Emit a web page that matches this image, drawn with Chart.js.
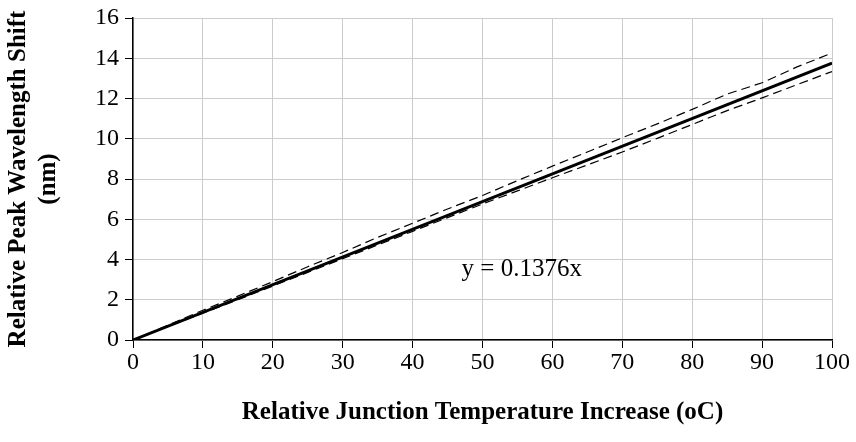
<!DOCTYPE html>
<html>
<head>
<meta charset="utf-8">
<script src="https://cdn.jsdelivr.net/npm/chart.js@4"></script>
<style>
  html, body { margin: 0; padding: 0; background: #fff; }
  #wrap { width: 856px; height: 442px; }
</style>
</head>
<body>
<div id="wrap"><canvas id="shift"></canvas></div>
<script>
const tempArr = [0, 5, 10, 15, 20, 25, 30, 35, 40, 45, 50, 55, 60, 65, 70, 75, 80, 85, 90, 95, 100];
const upperArr = [0, 0.74, 1.48, 2.18, 2.9, 3.64, 4.35, 5.1, 5.8, 6.51, 7.18, 7.92, 8.64, 9.34, 10.05, 10.74, 11.46, 12.22, 12.78, 13.57, 14.26];
const lowerArr = [0, 0.67, 1.33, 2.0, 2.68, 3.36, 4.04, 4.72, 5.4, 6.08, 6.76, 7.41, 8.06, 8.7, 9.34, 10.02, 10.71, 11.4, 12.03, 12.69, 13.34];
const fitX = [0, 100];
const fitY = [0, 13.76];
const xTicks = [0, 10, 20, 30, 40, 50, 60, 70, 80, 90, 100];
const yTicks = [0, 2, 4, 6, 8, 10, 12, 14, 16];
const equation = "y = 0.1376x";

const toPts = (xs, ys) => xs.map((x, i) => ({ x: x, y: ys[i] }));

// equation label drawn at a data position
const eqLabel = {
  id: "eqLabel",
  afterDatasetsDraw(chart) {
    const c = chart.ctx;
    c.save();
    c.font = "25px 'Liberation Serif'";
    c.fillStyle = "#000";
    c.textBaseline = "middle";
    c.fillText(equation, chart.scales.x.getPixelForValue(47), chart.scales.y.getPixelForValue(3.5));
    c.restore();
  },
};

const ctx = document.getElementById("shift").getContext("2d");
const myChart = new Chart(ctx, {
  type: "scatter",
  data: {
    datasets: [
      {
        label: "upper",
        data: toPts(tempArr, upperArr),
        showLine: true,
        borderColor: "#000",
        borderWidth: 1.2,
        borderDash: [9, 5],
        pointRadius: 0,
      },
      {
        label: "lower",
        data: toPts(tempArr, lowerArr),
        showLine: true,
        borderColor: "#000",
        borderWidth: 1.2,
        borderDash: [9, 5],
        pointRadius: 0,
      },
      {
        label: "fit",
        data: toPts(fitX, fitY),
        showLine: true,
        borderColor: "#000",
        borderWidth: 3,
        pointRadius: 0,
      },
    ],
  },
  plugins: [eqLabel],
  options: {
    responsive: true,
    maintainAspectRatio: false,
    animation: false,
    layout: { padding: { top: 0, right: 24, left: 4, bottom: 4 } },
    plugins: {
      legend: { display: false },
      tooltip: { enabled: false },
    },
    scales: {
      x: {
        type: "linear",
        min: 0,
        max: 100,
        afterBuildTicks: (axis) => { axis.ticks = xTicks.map((v) => ({ value: v })); },
        grid: { color: "#cccccc", tickColor: "#000", tickLength: 8, lineWidth: 1 },
        border: { color: "#000", width: 1.5 },
        ticks: {
          color: "#000",
          font: { family: "'Liberation Serif'", size: 24 },
          padding: 0,
          maxRotation: 0,
        },
        title: {
          display: true,
          text: "Relative Junction Temperature Increase (oC)",
          color: "#000",
          font: { family: "'Liberation Serif'", size: 25, weight: "bold" },
          padding: { top: 0, bottom: 10 },
        },
        afterFit: (axis) => { axis.height = 98; },
      },
      y: {
        min: 0,
        max: 16,
        afterBuildTicks: (axis) => { axis.ticks = yTicks.map((v) => ({ value: v })); },
        grid: { color: "#cccccc", tickColor: "#000", tickLength: 8, lineWidth: 1 },
        border: { color: "#000", width: 1.5 },
        ticks: {
          color: "#000",
          font: { family: "'Liberation Serif'", size: 24, lineHeight: 1 },
          padding: 6,
        },
        title: {
          display: true,
          text: ["Relative Peak Wavelength Shift", "(nm)"],
          color: "#000",
          font: { family: "'Liberation Serif'", size: 25, weight: "bold" },
          padding: { top: 0, bottom: 0 },
        },
        afterFit: (axis) => { axis.width = 129; },
      },
    },
  },
});
</script>
</body>
</html>
